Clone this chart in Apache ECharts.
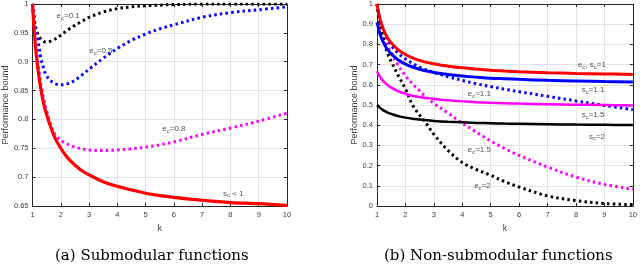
<!DOCTYPE html>
<html><head><meta charset="utf-8">
<script src="https://cdn.jsdelivr.net/npm/echarts@6/dist/echarts.min.js"></script>
<style>html,body{margin:0;padding:0;background:#fff}#c{width:640px;height:266px}</style>
</head><body><div id="c"></div>
<script>
// shared k sample positions
const K = [1,1.1,1.2,1.3,1.4,1.5,1.75,2,2.25,2.5,2.75,3,3.5,4,4.5,5,5.5,6,7,8,9,10];

// (a) Submodular functions
const leftScLt1 = [1,0.929,0.884,0.851,0.826,0.808,0.773,0.75,0.733,0.721,0.711,0.704,0.692,0.684,0.678,0.672,0.668,0.665,0.660,0.656,0.654,0.651];
const leftEc01  = [1,0.962,0.946,0.939,0.935,0.934,0.938,0.946,0.955,0.963,0.970,0.977,0.986,0.992,0.995,0.997,0.998,0.999,1,1,1,1];
const leftEc05  = [1,0.96,0.935,0.905,0.888,0.875,0.863,0.860,0.862,0.868,0.877,0.887,0.906,0.923,0.937,0.948,0.957,0.964,0.977,0.985,0.990,0.995];
const leftEc08  = [1,0.945,0.895,0.86,0.835,0.815,0.778,0.764,0.757,0.752,0.749,0.747,0.746,0.747,0.749,0.752,0.756,0.761,0.774,0.785,0.797,0.811];

// (b) Non-submodular functions
const rightEcSc1 = [1,0.929,0.884,0.851,0.826,0.808,0.773,0.75,0.733,0.721,0.711,0.704,0.692,0.684,0.678,0.672,0.668,0.665,0.660,0.656,0.654,0.651];
const rightSc11  = [0.909,0.854,0.817,0.790,0.769,0.753,0.7225,0.7025,0.688,0.677,0.668,0.661,0.651,0.6435,0.638,0.633,0.630,0.627,0.622,0.619,0.616,0.614];
const rightSc15  = [0.667,0.641,0.622,0.607,0.595,0.586,0.568,0.556,0.546,0.5395,0.534,0.530,0.523,0.518,0.514,0.511,0.509,0.507,0.504,0.5015,0.500,0.498];
const rightSc2   = [0.5,0.487,0.476,0.468,0.461,0.456,0.445,0.4375,0.432,0.428,0.424,0.421,0.417,0.414,0.411,0.410,0.408,0.407,0.405,0.403,0.402,0.401];
const rightEc11  = [1,0.925,0.877,0.845,0.815,0.795,0.755,0.728,0.706,0.688,0.673,0.661,0.64,0.622,0.605,0.591,0.578,0.566,0.543,0.52,0.498,0.477];
const rightEc15  = [1,0.91,0.855,0.815,0.785,0.76,0.695,0.645,0.605,0.57,0.537,0.508,0.46,0.41,0.365,0.322,0.284,0.25,0.193,0.143,0.107,0.083];
const rightEc2   = [1,0.9,0.84,0.785,0.745,0.715,0.645,0.58,0.50,0.45,0.405,0.355,0.275,0.215,0.18,0.152,0.12,0.094,0.05,0.027,0.012,0.007];

// tick labels
const xTicks = [1,2,3,4,5,6,7,8,9,10];
const leftYTicks = [0.65,0.7,0.75,0.8,0.85,0.9,0.95,1];
const rightYTicks = [0,0.1,0.2,0.3,0.4,0.5,0.6,0.7,0.8,0.9,1];

// annotations: [k, value, text]  ("_c" = subscript c)
const leftNotes = [[2.26,0.979,'e_c=0.1'],[3.42,0.919,'e_c=0.5'],[6.0,0.783,'e_c=0.8'],[8.1,0.672,'s_c < 1']];
const rightNotes = [[8.56,0.70,'e_c, s_c=1'],[8.6,0.576,'s_c=1.1'],[4.6,0.557,'e_c=1.1'],[8.6,0.453,'s_c=1.5'],[8.74,0.345,'s_c=2'],[4.6,0.276,'e_c=1.5'],[4.71,0.10,'e_c=2']];

const zip = ys => K.map((k,i)=>[k,ys[i]]);
const AX = '#262626', GRID = '#e3e3e3', LBL = '#404040';
const FONT = 'Liberation Sans, Arial, sans-serif';

function xAx(gi, bottom){
  return {type:'value', gridIndex:gi, position: bottom?'bottom':'top', min:xTicks[0], max:xTicks[xTicks.length-1], interval:1,
    name: bottom?'k':'', nameLocation:'middle', nameGap:18, nameTextStyle:{fontSize:9,color:LBL,fontFamily:FONT},
    axisLine:{show:true,onZero:false,lineStyle:{color:AX,width:1}},
    axisTick:{show:true,inside:true,length:3,lineStyle:{color:AX}},
    axisLabel:{show:bottom,fontSize:7.5,color:LBL,fontFamily:FONT,margin:5},
    splitLine:{show:bottom,lineStyle:{color:GRID,width:1}}};
}
function yAx(gi, left, ticks, gap){
  return {type:'value', gridIndex:gi, position: left?'left':'right', min:ticks[0], max:ticks[ticks.length-1], interval: +(ticks[1]-ticks[0]).toFixed(3),
    name: left?'Performance bound':'', nameLocation:'middle', nameGap:gap, nameTextStyle:{fontSize:9,color:LBL,fontFamily:FONT},
    axisLine:{show:true,onZero:false,lineStyle:{color:AX,width:1}},
    axisTick:{show:true,inside:true,length:3,lineStyle:{color:AX}},
    axisLabel:{show:left,fontSize:7.5,color:LBL,fontFamily:FONT,margin:4,formatter:v=>String(+v.toFixed(2))},
    splitLine:{show:left,lineStyle:{color:GRID,width:1}}};
}
function line(xi, data, color, width, dotted){
  return {type:'line', xAxisIndex:xi, yAxisIndex:xi, data:zip(data), showSymbol:false, smooth:0.35, silent:true,
    lineStyle:{color, width, type: dotted?[2.5,3.2]:'solid', cap:'butt'}, z: dotted?2:3};
}
function richText(s){
  const parts = s.split('_c');
  let out = '';
  parts.forEach((p,i)=>{ if(i>0) out += '{sub|c}'; if(p) out += '{t|'+p+'}'; });
  return out;
}
function notes(xi, arr){
  return {type:'scatter', xAxisIndex:xi, yAxisIndex:xi, symbolSize:0, silent:true, z:5,
    data: arr.map(a=>({value:[a[0],a[1]], txt:a[2]})),
    label:{show:true, position:'inside', formatter:p=>richText(p.data.txt),
      rich:{t:{fontSize:8,color:'#262626',fontFamily:FONT}, sub:{fontSize:6,color:'#262626',fontFamily:FONT,padding:[5,0,0,0]}}}};
}

const chart = echarts.init(document.getElementById('c'), null, {renderer:'canvas'});
chart.setOption({
  animation:false,
  backgroundColor:'#fff',
  grid:[{left:30,top:3,width:257,height:203},{left:377,top:3,width:257,height:203}],
  xAxis:[xAx(0,true),xAx(0,false),xAx(1,true),xAx(1,false)],
  yAxis:[yAx(0,true,leftYTicks,21),yAx(0,false,leftYTicks,0),yAx(1,true,rightYTicks,17),yAx(1,false,rightYTicks,0)],
  series:[
    line(0,leftEc01,'#000000',3,true),
    line(0,leftEc05,'#0000ff',3,true),
    line(0,leftEc08,'#ff00ff',3,true),
    line(0,leftScLt1,'#ff0000',3.2,false),
    line(2,rightSc2,'#000000',2.5,false),
    line(2,rightSc15,'#ff00ff',2.5,false),
    line(2,rightSc11,'#0000ff',3,false),
    line(2,rightEcSc1,'#ff0000',3,false),
    line(2,rightEc11,'#0000ff',3,true),
    line(2,rightEc15,'#ff00ff',3,true),
    line(2,rightEc2,'#000000',3,true),
    notes(0,leftNotes),
    notes(2,rightNotes)
  ],
  graphic:[
    {type:'text', left:150-95, top:249, style:{text:'(a) Submodular functions', font:'15px "DejaVu Serif", serif', fill:'#000'}},
    {type:'text', left:496-112, top:249, style:{text:'(b) Non-submodular functions', font:'15px "DejaVu Serif", serif', fill:'#000'}}
  ]
});
</script></body></html>
